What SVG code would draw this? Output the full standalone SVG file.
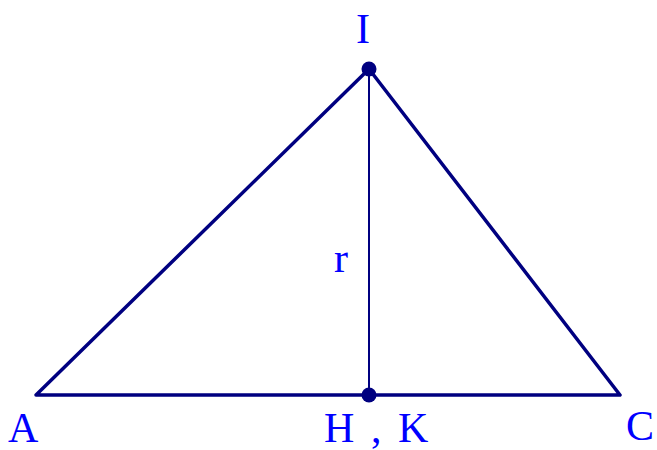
<svg xmlns="http://www.w3.org/2000/svg" width="657" height="450" viewBox="0 0 657 450">
<style>
.edge{stroke:#000080;stroke-width:3.5;fill:none;stroke-linecap:round;stroke-linejoin:round}
.thin{stroke:#000080;stroke-width:2;fill:none}
.dot{fill:#000080}
.lbl{font-family:"Liberation Serif",serif;font-size:42px;fill:#0000ff}
</style>
<rect width="657" height="450" fill="#ffffff"/>
<g id="connectors">
<polygon class="edge" points="36,395 369,69 620,395"/>
<line class="thin" x1="369" y1="69" x2="369" y2="395"/>
</g>
<g id="node-I"><circle class="dot" cx="369" cy="69" r="7.5"/><text class="lbl" x="363" y="43" text-anchor="middle">I</text></g>
<g id="node-H"><circle class="dot" cx="369" cy="395" r="7.5"/><text class="lbl" y="442"><tspan x="324">H</tspan><tspan x="371">,</tspan><tspan x="398">K</tspan></text></g>
<g id="node-A"><text class="lbl" x="8" y="442">A</text></g>
<g id="node-C"><text class="lbl" x="626" y="440">C</text></g>
<g id="label-r"><text class="lbl" x="334" y="272">r</text></g>
</svg>
